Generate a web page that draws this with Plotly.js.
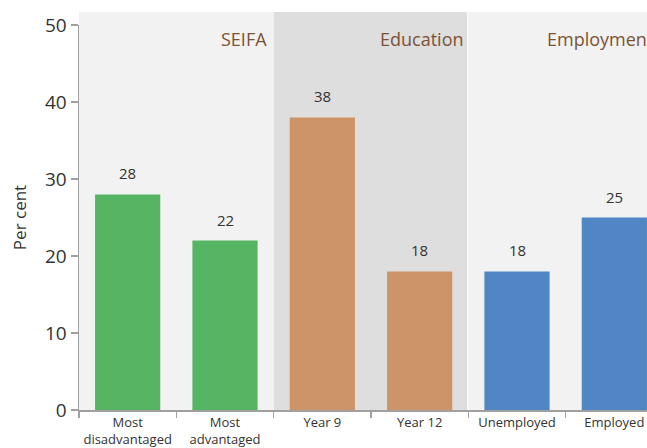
<!DOCTYPE html>
<html>
<head>
<meta charset="utf-8">
<script src="https://cdn.plot.ly/plotly-3.0.1.min.js"></script>
<style>
html,body{margin:0;padding:0;overflow:hidden;background:#fff;}
#chart{width:680px;height:448px;}
</style>
</head>
<body>
<div id="chart"></div>
<script>
// Data
const categories = ["Most<br>disadvantaged", "Most<br>advantaged", "Year 9", "Year 12", "Unemployed", "Employed"];
const values = [28, 22, 38, 18, 18, 25];
const barColors = ["#55b563", "#55b563", "#cd9467", "#cd9467", "#4f86c3", "#4f86c3"];
const groups = ["SEIFA", "Education", "Employment"];
const groupShades = ["#f2f2f2", "#dedede", "#f2f2f2"];
const yTicks = [0, 10, 20, 30, 40, 50];

const FONT = "Open Sans, Noto Sans, sans-serif";
const groupShift = [-5, -2, -8];

const trace = {
  type: "bar",
  x: categories,
  y: values,
  marker: {color: barColors},
  hoverinfo: "none"
};

const shapes = groups.map((g, i) => ({
  type: "rect", layer: "below",
  xref: "paper", yref: "paper",
  x0: i / groups.length, x1: (i + 1) / groups.length - (i === 1 ? 0.002 : 0),
  y0: 0, y1: 1.034,
  fillcolor: groupShades[i], line: {width: 0}
}));

const valueAnnotations = categories.map((c, i) => ({
  x: c, y: values[i], xref: "x", yref: "y",
  text: String(values[i]), showarrow: false,
  yanchor: "bottom", yshift: 9,
  font: {family: FONT, size: 15, color: "#333333"}
}));

const groupAnnotations = groups.map((g, i) => ({
  xref: "paper", yref: "paper",
  x: (i + 1) / groups.length, y: 1,
  xanchor: "right", yanchor: "top", xshift: groupShift[i], yshift: 0,
  text: g, showarrow: false,
  font: {family: FONT, size: 18, color: "#7b5236"}
}));

const layout = {
  width: 680, height: 448,
  margin: {l: 79, r: 17, t: 25, b: 38},
  paper_bgcolor: "#ffffff",
  plot_bgcolor: "rgba(0,0,0,0)",
  bargap: 0.33,
  showlegend: false,
  font: {family: FONT, color: "#333333"},
  xaxis: {
    type: "category",
    range: [-0.5, 5.5],
    tickangle: 0,
    showline: true, linecolor: "#a0a0a0", linewidth: 1.5,
    ticks: "outside", tickson: "boundaries", ticklen: 6, tickcolor: "#a0a0a0", tickwidth: 1.5,
    showgrid: false, zeroline: false,
    tickfont: {family: FONT, size: 13, color: "#333333"}
  },
  yaxis: {
    range: [0, 50],
    tickvals: yTicks,
    ticktext: yTicks.map(String),
    showline: true, linecolor: "#a0a0a0", linewidth: 1.5,
    ticks: "outside", ticklen: 7, tickcolor: "#a0a0a0", tickwidth: 1.5,
    showgrid: false, zeroline: false,
    tickfont: {family: FONT, size: 19, color: "#333333"},
    title: {text: "Per cent", font: {family: FONT, size: 17, color: "#333333"}, standoff: 14}
  },
  shapes: shapes,
  annotations: valueAnnotations.concat(groupAnnotations)
};

Plotly.newPlot("chart", [trace], layout, {displayModeBar: false, staticPlot: true});
</script>
</body>
</html>
